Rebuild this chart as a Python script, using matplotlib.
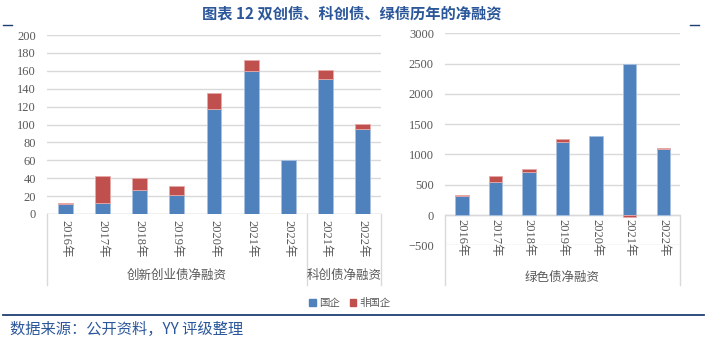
import numpy as np
import matplotlib
matplotlib.use('Agg')
from matplotlib import pyplot
from matplotlib.patches import Patch
import matplotlib.transforms as mtransforms

pyplot.rcParams['font.family'] = ['Liberation Serif', 'Noto Sans CJK SC', 'DejaVu Sans']

# left panel: 双创债 (创新创业债) 2016-2022 + 科创债 2021-2022
left_years = ['2016年', '2017年', '2018年', '2019年', '2020年', '2021年', '2022年',
              '2021年', '2022年']
left_soe = [11, 12, 27, 21, 117, 160, 60, 151, 95]
left_non_soe = [1, 30, 13, 10, 18, 12, 0, 10, 6]
left_groups = ['创新创业债净融资', '科创债净融资']

# right panel: 绿色债
right_years = ['2016年', '2017年', '2018年', '2019年', '2020年', '2021年', '2022年']
right_soe = [310, 545, 712, 1207, 1312, 2485, 1086]
right_non_soe = [15, 95, 55, 40, 0, -28, 16]
right_group = '绿色债净融资'

BLUE = '#4F81BD'
RED = '#C0504D'
GRID = '#D9D9D9'
TXT = '#595959'
NAVY = '#1F3F73'
CJK = ['Noto Sans CJK SC', 'DejaVu Sans']

W, H = 709, 344
fig = pyplot.figure(figsize=(W / 100, H / 100), dpi=100)


def box(x0, x1, ytop, ybot):
    return [x0 / W, 1 - ybot / H, (x1 - x0) / W, (ybot - ytop) / H]


def stacked(ax, soe, non_soe):
    x = np.arange(len(soe))
    soe = np.array(soe, dtype=float)
    non = np.array(non_soe, dtype=float)
    ax.bar(x, soe, width=0.4, color=BLUE, edgecolor='#A9C1E0', linewidth=0.6, zorder=3)
    keep = non != 0
    bottoms = np.where(non >= 0, soe, 0)
    ax.bar(x[keep], non[keep], width=0.4, bottom=bottoms[keep], color=RED,
           edgecolor='#E6A9A8', linewidth=0.6, zorder=3)
    return x


def style(ax, labels, ylim, step):
    ax.set_ylim(*ylim)
    ax.set_yticks(np.arange(ylim[0], ylim[1] + 1, step))
    ax.grid(axis='y', color=GRID, linewidth=1, zorder=0)
    for s in ['top', 'right', 'left', 'bottom']:
        ax.spines[s].set_visible(False)
    ax.axhline(0, color=GRID, linewidth=1, zorder=2)
    ax.set_xlim(-0.5, len(labels) - 0.5)
    ax.set_xticks(np.arange(len(labels)))
    ax.set_xticklabels(labels, rotation=-90, fontsize=9, color=TXT)
    ax.tick_params(axis='both', length=0, labelsize=9, labelcolor=TXT)
    ax.tick_params(axis='y', pad=8)
    for t in ax.get_yticklabels():
        t.set_fontfamily('Liberation Serif')


# left chart
ax1 = fig.add_axes(box(47, 381, 35, 214))
stacked(ax1, left_soe, left_non_soe)
style(ax1, left_years, (0, 200), 20)
ax1.tick_params(axis='x', pad=4)
tr1 = mtransforms.blended_transform_factory(ax1.transData, ax1.transAxes)
ylow1 = -(285 - 214) / (214 - 35)
for xv in [-0.5, 6.5, 8.5]:
    ax1.plot([xv, xv], [0, ylow1], transform=tr1, color=GRID, lw=1, clip_on=False)
ax1.text(3.0, -(275 - 214) / (214 - 35), left_groups[0], transform=tr1,
         ha='center', va='center', fontsize=9, color=TXT, family=CJK)
ax1.text(7.5, -(275 - 214) / (214 - 35), left_groups[1], transform=tr1,
         ha='center', va='center', fontsize=9, color=TXT, family=CJK)

# right chart
ax2 = fig.add_axes(box(445, 680, 33.3, 245.3))
stacked(ax2, right_soe, right_non_soe)
style(ax2, right_years, (-500, 3000), 500)
# category labels sit under the zero line
ax2.set_xticks([])
tr2 = mtransforms.blended_transform_factory(ax2.transData, ax2.transAxes)
for i, lab in enumerate(right_years):
    ax2.text(i, 500 / 3500 - 4 / 212, lab, transform=tr2, rotation=-90,
             ha='center', va='top', fontsize=9, color=TXT)
ylow2 = -(285 - 245.3) / 212
for xv in [-0.5, 6.5]:
    ax2.plot([xv, xv], [500 / 3500, ylow2], transform=tr2, color=GRID, lw=1,
             clip_on=False)
ax2.text(3.0, -(277 - 245.3) / 212, right_group, transform=tr2,
         ha='center', va='center', fontsize=9, color=TXT, family=CJK)

# title
fig.text(352 / W, 1 - 13 / H, '图表 12 双创债、科创债、绿债历年的净融资',
         ha='center', va='center', fontsize=11, fontweight='bold',
         color='#2B579A', family=CJK)

# decorations
fig.add_artist(pyplot.Line2D([3 / W, 12 / W], [1 - 25 / H] * 2, color=NAVY, lw=1))
fig.add_artist(pyplot.Line2D([690 / W, 699 / W], [1 - 25 / H] * 2, color=NAVY, lw=1))
fig.add_artist(pyplot.Line2D([3 / W, 704 / W], [1 - 315 / H] * 2, color=NAVY, lw=1.3))

# legend
handles = [Patch(color=BLUE, label='国企'), Patch(color=RED, label='非国企')]
leg = fig.legend(handles=handles, loc='center', bbox_to_anchor=(350 / W, 1 - 303 / H),
                 ncol=2, frameon=False, handlelength=0.6, handleheight=0.6,
                 handletextpad=0.3, columnspacing=1.0, prop={'family': CJK, 'size': 7.5})
for t in leg.get_texts():
    t.set_color(TXT)

# source
fig.text(10 / W, 1 - 329 / H, '数据来源：公开资料，YY 评级整理', ha='left', va='center',
         fontsize=11, color='#2B579A', family=CJK)

fig.savefig('out.png', dpi=100)
